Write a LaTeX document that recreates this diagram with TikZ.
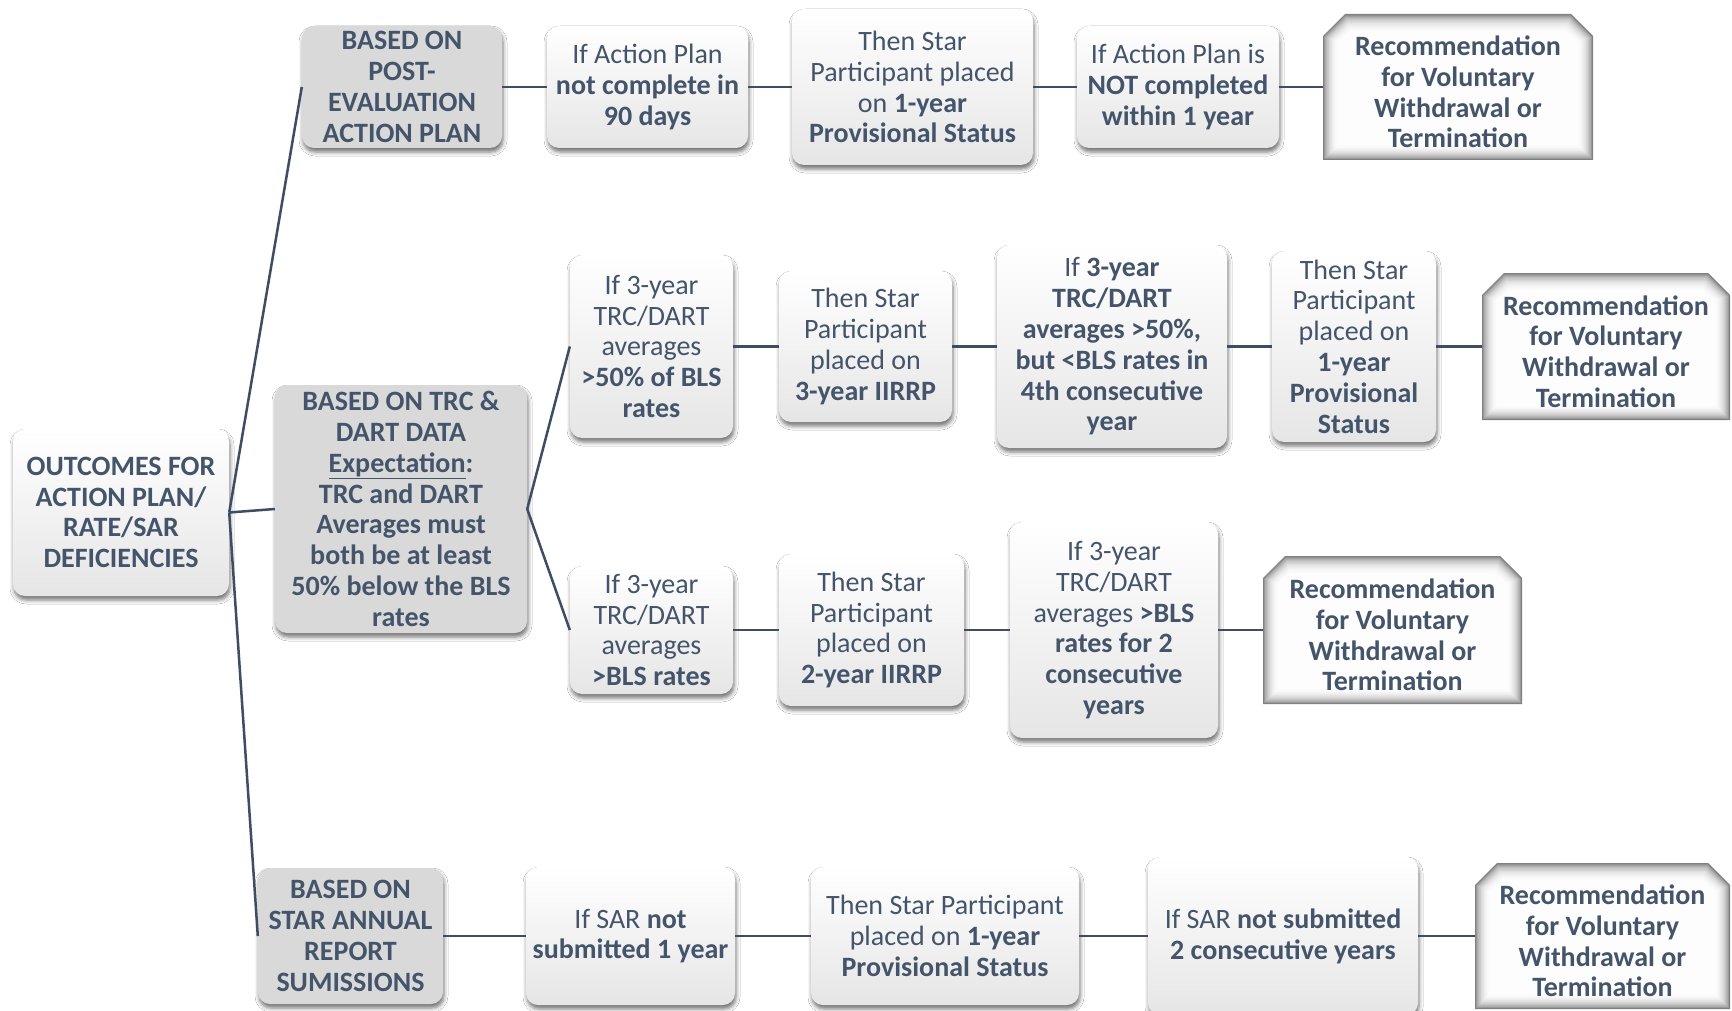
\documentclass[tikz,border=0pt]{standalone}
\usepackage{fontspec}
\setmainfont{Carlito}
\usetikzlibrary{shadows.blur}
\definecolor{txt}{HTML}{44546A}
\definecolor{lnc}{HTML}{3E4D63}
\definecolor{gbg}{HTML}{D9D9D9}
\newcommand\fs{\fontsize{28}{30.8}\selectfont}
\tikzset{
  base/.style={align=center, text=txt, font=\fs, inner sep=0pt},
  shad/.style={blur shadow={shadow xshift=1pt, shadow yshift=-4pt, shadow blur radius=4pt, shadow opacity=55}},
  wbox/.style={base, rounded corners=12pt, top color=white, bottom color=black!10, shad},
  rootbox/.style={wbox, font=\fs\bfseries},
  gbox/.style={base, rounded corners=12pt, fill=gbg, shad, font=\fs\bfseries},
  rbox/.style={base, font=\fs\bfseries},
  conn/.style={draw=lnc, line width=2.5pt},
}
\newcommand\bx[7]{\node[#1, minimum width={(#5-#3)*1pt}, minimum height={(#6-#4)*1pt}] (#2) at ({(#3+#5)/2},{(#4+#6)/2}) {#7};}
\newcommand\recbox[6]{%
  \foreach \i/\c in {0/50,1/40,2/32,3/26,4/21,5/17,6/13,7/10,8/7.5,9/5.5,10/4,11/2.5,12/1.5,13/0.7}{%
    \fill[black!\c] ({#2+\i*1.1},{#5-\i*1.1}) -- ({#2+\i*1.1},{#3+22+\i*0.45}) -- ({#2+22+\i*0.45},{#3+\i*1.3}) -- ({#4-22-\i*0.45},{#3+\i*1.3}) -- ({#4-\i*1.1},{#3+22+\i*0.45}) -- ({#4-\i*1.1},{#5-\i*1.1}) -- cycle;}
  \node[rbox, minimum width={(#4-#2)*1pt}, minimum height={(#5-#3)*1pt}] (#1) at ({(#2+#4)/2},{(#3+#5)/2}) {};
  \node[rbox] at ({(#2+#4)/2},{(#3+#5)/2+5}) {#6};}
\begin{document}
\begin{tikzpicture}[x=1pt,y=-1pt]
\useasboundingbox[fill=white] (0,0) rectangle (1732,1011);
% root
\bx{rootbox}{root}{13}{429}{229}{596}{OUTCOMES FOR\\ACTION PLAN/\\RATE/SAR\\DEFICIENCIES}
% row 1
\bx{gbox}{g1}{302}{26}{502}{148}{BASED ON\\POST-\\EVALUATION\\ACTION PLAN}
\bx{wbox}{w1}{547}{26}{748}{148}{If Action Plan\\\textbf{not complete in}\\\textbf{90 days}}
\bx{wbox}{w2}{792}{9}{1033}{165}{Then Star\\Participant placed\\on \textbf{1-year}\\\textbf{Provisional Status}}
\bx{wbox}{w3}{1077}{26}{1279}{148}{If Action Plan is\\\textbf{NOT completed}\\\textbf{within 1 year}}
\recbox{rec1}{1323}{14}{1593}{160}{Recommendation\\for Voluntary\\Withdrawal or\\Termination}
% row 2
\bx{gbox}{g2}{275}{385}{527}{633}{BASED ON TRC \&\\DART DATA\\\underline{Expectation}:\\TRC and DART\\Averages must\\both be at least\\50\% below the BLS\\rates}
\bx{wbox}{r2a}{570}{255}{733}{438}{If 3-year\\TRC/DART\\averages\\\textbf{>50\% of BLS}\\\textbf{rates}}
\bx{wbox}{r2b}{779}{271}{952}{422}{Then Star\\Participant\\placed on\\\textbf{3-year IIRRP}}
\bx{wbox}{r2c}{997}{245}{1227}{448}{If \textbf{3-year}\\\textbf{TRC/DART}\\\textbf{averages >50\%,}\\\textbf{but <BLS rates in}\\\textbf{4th consecutive}\\\textbf{year}}
\bx{wbox}{r2d}{1272}{251}{1436}{442}{Then Star\\Participant\\placed on\\\textbf{1-year}\\\textbf{Provisional}\\\textbf{Status}}
\recbox{rec2}{1482}{273}{1730}{420}{Recommendation\\for Voluntary\\Withdrawal or\\Termination}
% row 3
\bx{wbox}{r3a}{570}{566}{733}{694}{If 3-year\\TRC/DART\\averages\\\textbf{>BLS rates}}
\bx{wbox}{r3b}{779}{554}{964}{706}{Then Star\\Participant\\placed on\\\textbf{2-year IIRRP}}
\bx{wbox}{r3c}{1010}{522}{1218}{738}{If 3-year\\TRC/DART\\averages \textbf{>BLS}\\\textbf{rates for 2}\\\textbf{consecutive}\\\textbf{years}}
\recbox{rec3}{1263}{556}{1522}{704}{Recommendation\\for Voluntary\\Withdrawal or\\Termination}
% row 4
\bx{gbox}{g4}{258}{868}{443}{1004}{BASED ON\\STAR ANNUAL\\REPORT\\SUMISSIONS}
\bx{wbox}{r4a}{526}{867}{735}{1005}{If SAR \textbf{not}\\\textbf{submitted 1 year}}
\bx{wbox}{r4b}{811}{867}{1079}{1005}{Then Star Participant\\placed on \textbf{1-year}\\\textbf{Provisional Status}}
\bx{wbox}{r4c}{1148}{857}{1418}{1015}{If SAR \textbf{not submitted}\\\textbf{2 consecutive years}}
\recbox{rec4}{1475}{863}{1730}{1009}{Recommendation\\for Voluntary\\Withdrawal or\\Termination}
% connectors
\draw[conn] (root.east) -- (g1.west);
\draw[conn] (root.east) -- (g2.west);
\draw[conn] (root.east) -- (g4.west);
\draw[conn] (g1.east) -- (w1.west);
\draw[conn] (w1.east) -- (w2.west);
\draw[conn] (w2.east) -- (w3.west);
\draw[conn] (w3.east) -- (rec1.west);
\draw[conn] (g2.east) -- (r2a.west);
\draw[conn] (g2.east) -- (r3a.west);
\draw[conn] (r2a.east) -- (r2b.west);
\draw[conn] (r2b.east) -- (r2c.west);
\draw[conn] (r2c.east) -- (r2d.west);
\draw[conn] (r2d.east) -- (rec2.west);
\draw[conn] (r3a.east) -- (r3b.west);
\draw[conn] (r3b.east) -- (r3c.west);
\draw[conn] (r3c.east) -- (rec3.west);
\draw[conn] (g4.east) -- (r4a.west);
\draw[conn] (r4a.east) -- (r4b.west);
\draw[conn] (r4b.east) -- (r4c.west);
\draw[conn] (r4c.east) -- (rec4.west);
\end{tikzpicture}
\end{document}
